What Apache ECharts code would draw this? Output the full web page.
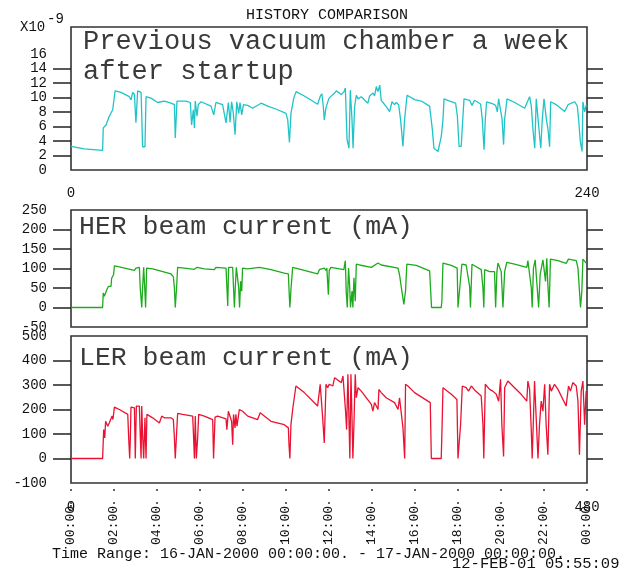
<!DOCTYPE html>
<html>
<head>
<meta charset="utf-8">
<title>History comparison</title>
<script src="https://cdn.jsdelivr.net/npm/echarts@6/dist/echarts.min.js"></script>
<style>
	html, body { margin: 0; padding: 0; background: #fff; }
	#historyChart { width: 627px; height: 571px; }
</style>
</head>
<body>
<div id="historyChart"></div>
<script>
// time in hours since 16-JAN-2000 00:00
var vacuumData = [[0,3.25],[0.62,2.9],[1.47,2.7],[1.50,5.8],[1.63,6.2],[1.78,7.4],[1.94,8.3],[2.05,10.9],[2.33,10.7],[2.71,10.1],[2.79,9.65],[2.87,10.7],[2.95,10.4],[3.02,6.5],[3.10,10.9],[3.18,11.0],[3.26,10.7],[3.33,3.2],[3.44,3.2],[3.49,10.1],[3.72,9.9],[4.03,9.3],[4.34,9.5],[4.65,9.2],[4.81,9.0],[4.85,4.4],[4.93,9.5],[5.35,9.5],[5.55,9.3],[5.61,6.2],[5.69,8.3],[5.74,5.8],[5.78,9.5],[5.86,7.4],[5.92,9.0],[6.05,9.4],[6.51,8.8],[6.64,7.6],[6.74,9.3],[7.05,9.0],[7.21,6.5],[7.32,9.3],[7.40,6.6],[7.47,9.4],[7.55,7.8],[7.63,4.85],[7.71,9.4],[7.80,7.8],[7.86,9.3],[7.94,7.6],[8.02,9.0],[8.22,8.9],[8.45,8.5],[8.84,9.2],[9.15,8.8],[9.61,8.3],[10.0,7.8],[10.08,6.9],[10.16,3.8],[10.23,7.8],[10.36,9.9],[10.47,10.8],[10.85,10.2],[11.16,9.65],[11.47,9.05],[11.60,10.2],[11.67,10.5],[11.74,8.6],[11.78,6.9],[11.86,8.6],[11.95,8.7],[12.0,9.9],[12.26,10.6],[12.34,10.9],[12.57,10.4],[12.70,10.8],[12.76,11.3],[12.84,4.2],[12.93,3.0],[12.99,11.0],[13.07,6.9],[13.12,3.0],[13.19,8.7],[13.27,10.3],[13.35,9.8],[13.50,10.1],[13.81,9.2],[13.89,10.2],[14.05,10.6],[14.12,10.2],[14.20,11.5],[14.28,10.8],[14.36,11.7],[14.43,9.6],[14.51,9.3],[14.67,8.7],[14.82,8.05],[14.93,9.4],[15.05,9.0],[15.13,9.3],[15.24,9.0],[15.33,6.9],[15.44,3.25],[15.52,7.1],[15.63,10.3],[15.98,9.7],[16.29,9.5],[16.68,8.8],[16.76,8.6],[16.81,5.5],[16.88,3.0],[17.07,2.55],[17.15,2.7],[17.22,4.6],[17.30,6.9],[17.35,9.8],[17.61,9.5],[17.89,9.2],[17.97,7.4],[18.05,3.25],[18.15,3.25],[18.23,7.4],[18.28,9.8],[18.54,9.6],[18.65,8.9],[18.77,9.6],[19.05,9.1],[19.13,7.0],[19.21,2.8],[19.27,7.0],[19.33,9.4],[19.63,9.1],[19.75,8.9],[19.83,8.0],[19.89,9.8],[19.97,9.8],[20.05,7.0],[20.12,3.5],[20.17,7.0],[20.28,9.8],[20.64,9.3],[21.10,8.5],[21.26,9.6],[21.33,10.1],[21.41,8.8],[21.49,5.5],[21.57,3.0],[21.64,9.8],[21.72,9.8],[21.77,5.5],[21.85,3.0],[21.92,7.0],[22.0,9.8],[22.11,7.0],[22.19,5.5],[22.26,3.2],[22.31,9.4],[22.57,9.0],[22.96,8.05],[23.12,9.0],[23.27,9.2],[23.43,9.4],[23.55,8.8],[23.61,7.0],[23.69,3.9],[23.77,2.55],[23.81,9.4],[23.89,8.0],[23.97,9.0]];

var herData = [[0,0],[1.47,0],[1.50,37],[1.55,29],[1.60,33],[1.67,46],[1.74,54],[1.86,54],[1.89,75],[1.98,84],[2.02,107],[2.25,104],[2.95,95],[3.02,101],[3.18,103],[3.22,50],[3.29,0],[3.33,50],[3.38,103],[3.43,50],[3.47,0],[3.52,101],[3.80,99],[4.65,86],[4.76,79],[4.81,50],[4.85,0],[4.91,50],[4.96,103],[5.27,101],[5.74,98],[5.86,103],[6.20,99],[6.67,97],[6.74,103],[7.21,101],[7.25,54],[7.29,4],[7.33,103],[7.52,103],[7.56,50],[7.60,0],[7.64,50],[7.69,103],[7.75,103],[7.80,50],[7.84,0],[7.89,67],[7.94,42],[7.98,101],[8.22,99],[8.76,103],[9.30,97],[9.92,88],[10.11,86],[10.14,46],[10.18,0],[10.23,46],[10.31,103],[10.85,95],[11.47,86],[11.55,97],[11.78,101],[11.86,95],[11.90,101],[11.97,33],[12.01,95],[12.09,103],[12.69,97],[12.76,120],[12.80,42],[12.85,0],[12.91,101],[12.96,55],[13.00,0],[13.07,42],[13.11,0],[13.16,76],[13.22,16],[13.27,111],[13.42,109],[13.97,103],[14.28,114],[14.43,109],[15.21,101],[15.28,84],[15.39,42],[15.48,8],[15.56,42],[15.62,111],[16.06,108],[16.68,94],[16.76,92],[16.77,0],[17.22,0],[17.25,16],[17.30,114],[17.69,108],[17.96,101],[18.00,0],[18.07,0],[18.18,111],[18.38,109],[18.54,54],[18.58,0],[18.65,111],[19.08,97],[19.16,50],[19.20,0],[19.24,97],[19.47,92],[19.70,92],[19.75,0],[19.81,92],[19.86,114],[19.93,116],[20.01,92],[20.09,0],[20.17,92],[20.27,116],[20.63,111],[21.20,103],[21.25,120],[21.33,124],[21.41,50],[21.45,0],[21.51,101],[21.59,122],[21.68,122],[21.75,0],[21.82,84],[21.95,122],[22.03,124],[22.07,67],[22.13,126],[22.18,58],[22.24,0],[22.30,124],[22.65,120],[23.03,113],[23.14,124],[23.50,120],[23.58,101],[23.65,42],[23.70,0],[23.76,42],[23.81,124],[23.89,120],[23.96,114]];

var lerData = [[0,0],[1.47,0],[1.52,118],[1.57,84],[1.61,152],[1.71,132],[1.78,145],[1.86,138],[1.91,173],[1.95,159],[2.02,210],[2.25,200],[2.64,180],[2.68,90],[2.73,0],[2.76,84],[2.79,210],[2.95,207],[2.99,0],[3.04,214],[3.10,221],[3.18,214],[3.22,97],[3.26,0],[3.29,214],[3.33,97],[3.38,0],[3.44,166],[3.49,0],[3.53,180],[3.80,166],[4.11,145],[4.22,173],[4.34,166],[4.65,166],[4.76,159],[4.81,84],[4.85,0],[4.90,84],[4.96,184],[5.19,180],[5.66,173],[5.70,90],[5.74,0],[5.78,173],[5.83,0],[5.89,84],[5.94,180],[6.20,173],[6.59,159],[6.63,0],[6.70,169],[6.82,173],[7.21,162],[7.25,118],[7.32,193],[7.41,196],[7.47,152],[7.52,56],[7.56,180],[7.63,125],[7.67,180],[7.72,132],[7.78,138],[7.83,200],[7.91,200],[7.98,193],[8.22,173],[8.68,159],[8.80,187],[9.30,152],[9.92,138],[10.11,125],[10.14,56],[10.18,0],[10.23,138],[10.31,200],[10.39,207],[10.46,296],[10.85,269],[11.47,214],[11.55,221],[11.59,303],[11.66,303],[11.70,173],[11.78,63],[11.86,303],[11.94,289],[12.01,303],[12.18,296],[12.26,330],[12.42,319],[12.57,310],[12.65,337],[12.73,344],[12.77,193],[12.82,118],[12.88,344],[12.93,152],[12.97,0],[13.02,344],[13.07,166],[13.11,0],[13.16,138],[13.22,344],[13.27,248],[13.35,289],[13.50,275],[13.97,221],[14.04,193],[14.12,228],[14.20,214],[14.28,200],[14.32,282],[14.43,269],[14.66,248],[15.05,228],[15.21,200],[15.28,248],[15.36,241],[15.44,125],[15.52,0],[15.56,303],[15.67,296],[15.98,269],[16.60,234],[16.71,228],[16.76,0],[17.22,0],[17.25,97],[17.30,289],[17.69,262],[17.95,241],[18.00,0],[18.07,0],[18.12,138],[18.20,296],[18.38,289],[18.49,275],[18.62,296],[18.77,280],[19.08,255],[19.16,138],[19.20,0],[19.27,303],[19.36,303],[19.47,282],[19.62,275],[19.78,262],[19.89,234],[19.98,323],[20.04,138],[20.12,8],[20.17,289],[20.32,316],[20.63,289],[20.94,262],[21.20,234],[21.25,316],[21.33,282],[21.41,111],[21.45,0],[21.51,166],[21.56,316],[21.64,323],[21.72,0],[21.79,138],[21.87,234],[21.95,193],[22.03,303],[22.10,138],[22.18,15],[22.26,303],[22.34,275],[22.49,303],[22.65,282],[23.03,214],[23.14,296],[23.23,275],[23.34,310],[23.42,316],[23.50,296],[23.58,234],[23.65,15],[23.73,275],[23.81,316],[23.89,138],[23.96,275]];

// tick labels
var vacuumLabels = [0, 2, 4, 6, 8, 10, 12, 14, 16];
var vacuumTicks = [2, 4, 6, 8, 10, 12, 14];
var herLabels = [-50, 0, 50, 100, 150, 200, 250];
var herTicks = [0, 50, 100, 150, 200];
var lerLabels = [-100, 0, 100, 200, 300, 400, 500];
var lerTicks = [0, 100, 200, 300, 400];
var timeHours = [0, 2, 4, 6, 8, 10, 12, 14, 16, 18, 20, 22, 24];
var timeLabels = ['00:00', '02:00', '04:00', '06:00', '08:00', '10:00', '12:00', '14:00', '16:00', '18:00', '20:00', '22:00', '00:00'];
var topEnds = ['0', '240'];
var bottomEnds = ['0', '480'];

(function(window) {
	var monoFont = '"Liberation Mono", "DejaVu Sans Mono", monospace';
	var inkColor = '#222';

	var historyChart = echarts.init(document.getElementById('historyChart'));

	// y axis with ticks sticking out on the left
	function leftAxis(gridIndex, min, max, labels, ticks) {
		return {
			type: 'value',
			gridIndex: gridIndex,
			position: 'left',
			min: min,
			max: max,
			splitLine: { show: false },
			axisLine: { show: false, onZero: false },
			axisTick: {
				show: true,
				inside: false,
				length: 18,
				customValues: ticks,
				lineStyle: { color: inkColor, width: 1.5 }
			},
			axisLabel: {
				customValues: labels,
				margin: 24,
				color: '#111',
				fontFamily: monoFont,
				fontSize: 14
			}
		};
	}

	// same ticks on the right, no labels
	function rightAxis(gridIndex, min, max, ticks) {
		return {
			type: 'value',
			gridIndex: gridIndex,
			position: 'right',
			min: min,
			max: max,
			splitLine: { show: false },
			axisLine: { show: false, onZero: false },
			axisTick: {
				show: true,
				inside: false,
				length: 16,
				customValues: ticks,
				lineStyle: { color: inkColor, width: 1.5 }
			},
			axisLabel: { show: false }
		};
	}

	function plainX(gridIndex) {
		return {
			type: 'value',
			gridIndex: gridIndex,
			position: 'bottom',
			min: 0,
			max: 24,
			splitLine: { show: false },
			axisLine: { show: false, onZero: false },
			axisTick: { show: false },
			axisLabel: { show: false }
		};
	}

	function endsX(gridIndex, ends, margin) {
		var x = plainX(gridIndex);
		x.axisLabel = {
			show: true,
			customValues: [0, 24],
			margin: margin,
			color: '#111',
			fontFamily: monoFont,
			fontSize: 14,
			formatter: function(v) {
				return v === 0 ? ends[0] : ends[1];
			}
		};
		return x;
	}

	var timeX = plainX(2);
	timeX.axisTick = {
		show: true,
		inside: false,
		length: 22,
		customValues: timeHours,
		lineStyle: { color: '#333', width: 1.5, type: [2, 11], dashOffset: 7 }
	};
	timeX.axisLabel = {
		show: true,
		customValues: timeHours,
		rotate: 90,
		margin: 23,
		color: '#111',
		fontFamily: monoFont,
		fontSize: 13,
		formatter: function(v) {
			return timeLabels[timeHours.indexOf(v)];
		}
	};

	function lineSeries(name, data, xIndex, yIndex, color) {
		return {
			name: name,
			type: 'line',
			xAxisIndex: xIndex,
			yAxisIndex: yIndex,
			data: data,
			showSymbol: false,
			symbol: 'none',
			sampling: null,
			lineStyle: { color: color, width: 1.3 },
			z: 3
		};
	}

	function bigText(text, x, y, size) {
		return {
			type: 'text',
			x: x,
			y: y,
			z: 10,
			style: {
				text: text,
				font: 'normal ' + size + 'px ' + monoFont,
				fill: '#3a3a3a',
				verticalAlign: 'middle',
				lineHeight: 30
			}
		};
	}

	function smallText(text, x, y, size) {
		return {
			type: 'text',
			x: x,
			y: y,
			z: 10,
			style: {
				text: text,
				font: 'normal ' + size + 'px ' + monoFont,
				fill: '#111',
				verticalAlign: 'middle'
			}
		};
	}

	var boxStyle = { show: true, borderColor: '#333', borderWidth: 1.6, backgroundColor: 'transparent' };

	var historyOption = {
		backgroundColor: '#fff',
		animation: false,
		grid: [
			echarts.util.extend({ left: 71, right: 40, top: 27, height: 143 }, boxStyle),
			echarts.util.extend({ left: 71, right: 40, top: 210, height: 117 }, boxStyle),
			echarts.util.extend({ left: 71, right: 40, top: 336, height: 147 }, boxStyle)
		],
		xAxis: [
			endsX(0, topEnds, 16),
			plainX(1),
			timeX,
			endsX(2, bottomEnds, 17)
		],
		yAxis: [
			leftAxis(0, 0, 19.7, vacuumLabels, vacuumTicks),
			rightAxis(0, 0, 19.7, vacuumTicks),
			leftAxis(1, -50, 250, herLabels, herTicks),
			rightAxis(1, -50, 250, herTicks),
			leftAxis(2, -100, 500, lerLabels, lerTicks),
			rightAxis(2, -100, 500, lerTicks)
		],
		series: [
			lineSeries('Previous vacuum chamber', vacuumData, 0, 0, '#1fc4c8'),
			lineSeries('HER beam current', herData, 1, 2, '#1dab1d'),
			lineSeries('LER beam current', lerData, 2, 4, '#ea1232')
		],
		graphic: [
			smallText('HISTORY COMPARISON', 246, 15, 15),
			smallText('X10', 20, 27, 14),
			smallText('-9', 47, 19, 14),
			bigText('Previous vacuum chamber a week\nafter startup', 83, 57, 27),
			bigText('HER beam current (mA)', 79, 227, 26.5),
			bigText('LER beam current (mA)', 79, 358, 26.5),
			smallText('Time Range: 16-JAN-2000 00:00:00. - 17-JAN-2000 00:00:00.', 52, 554, 15),
			smallText('12-FEB-01 05:55:09', 452, 564, 15.5)
		]
	};

	historyChart.setOption(historyOption);
})(window);
</script>
</body>
</html>
